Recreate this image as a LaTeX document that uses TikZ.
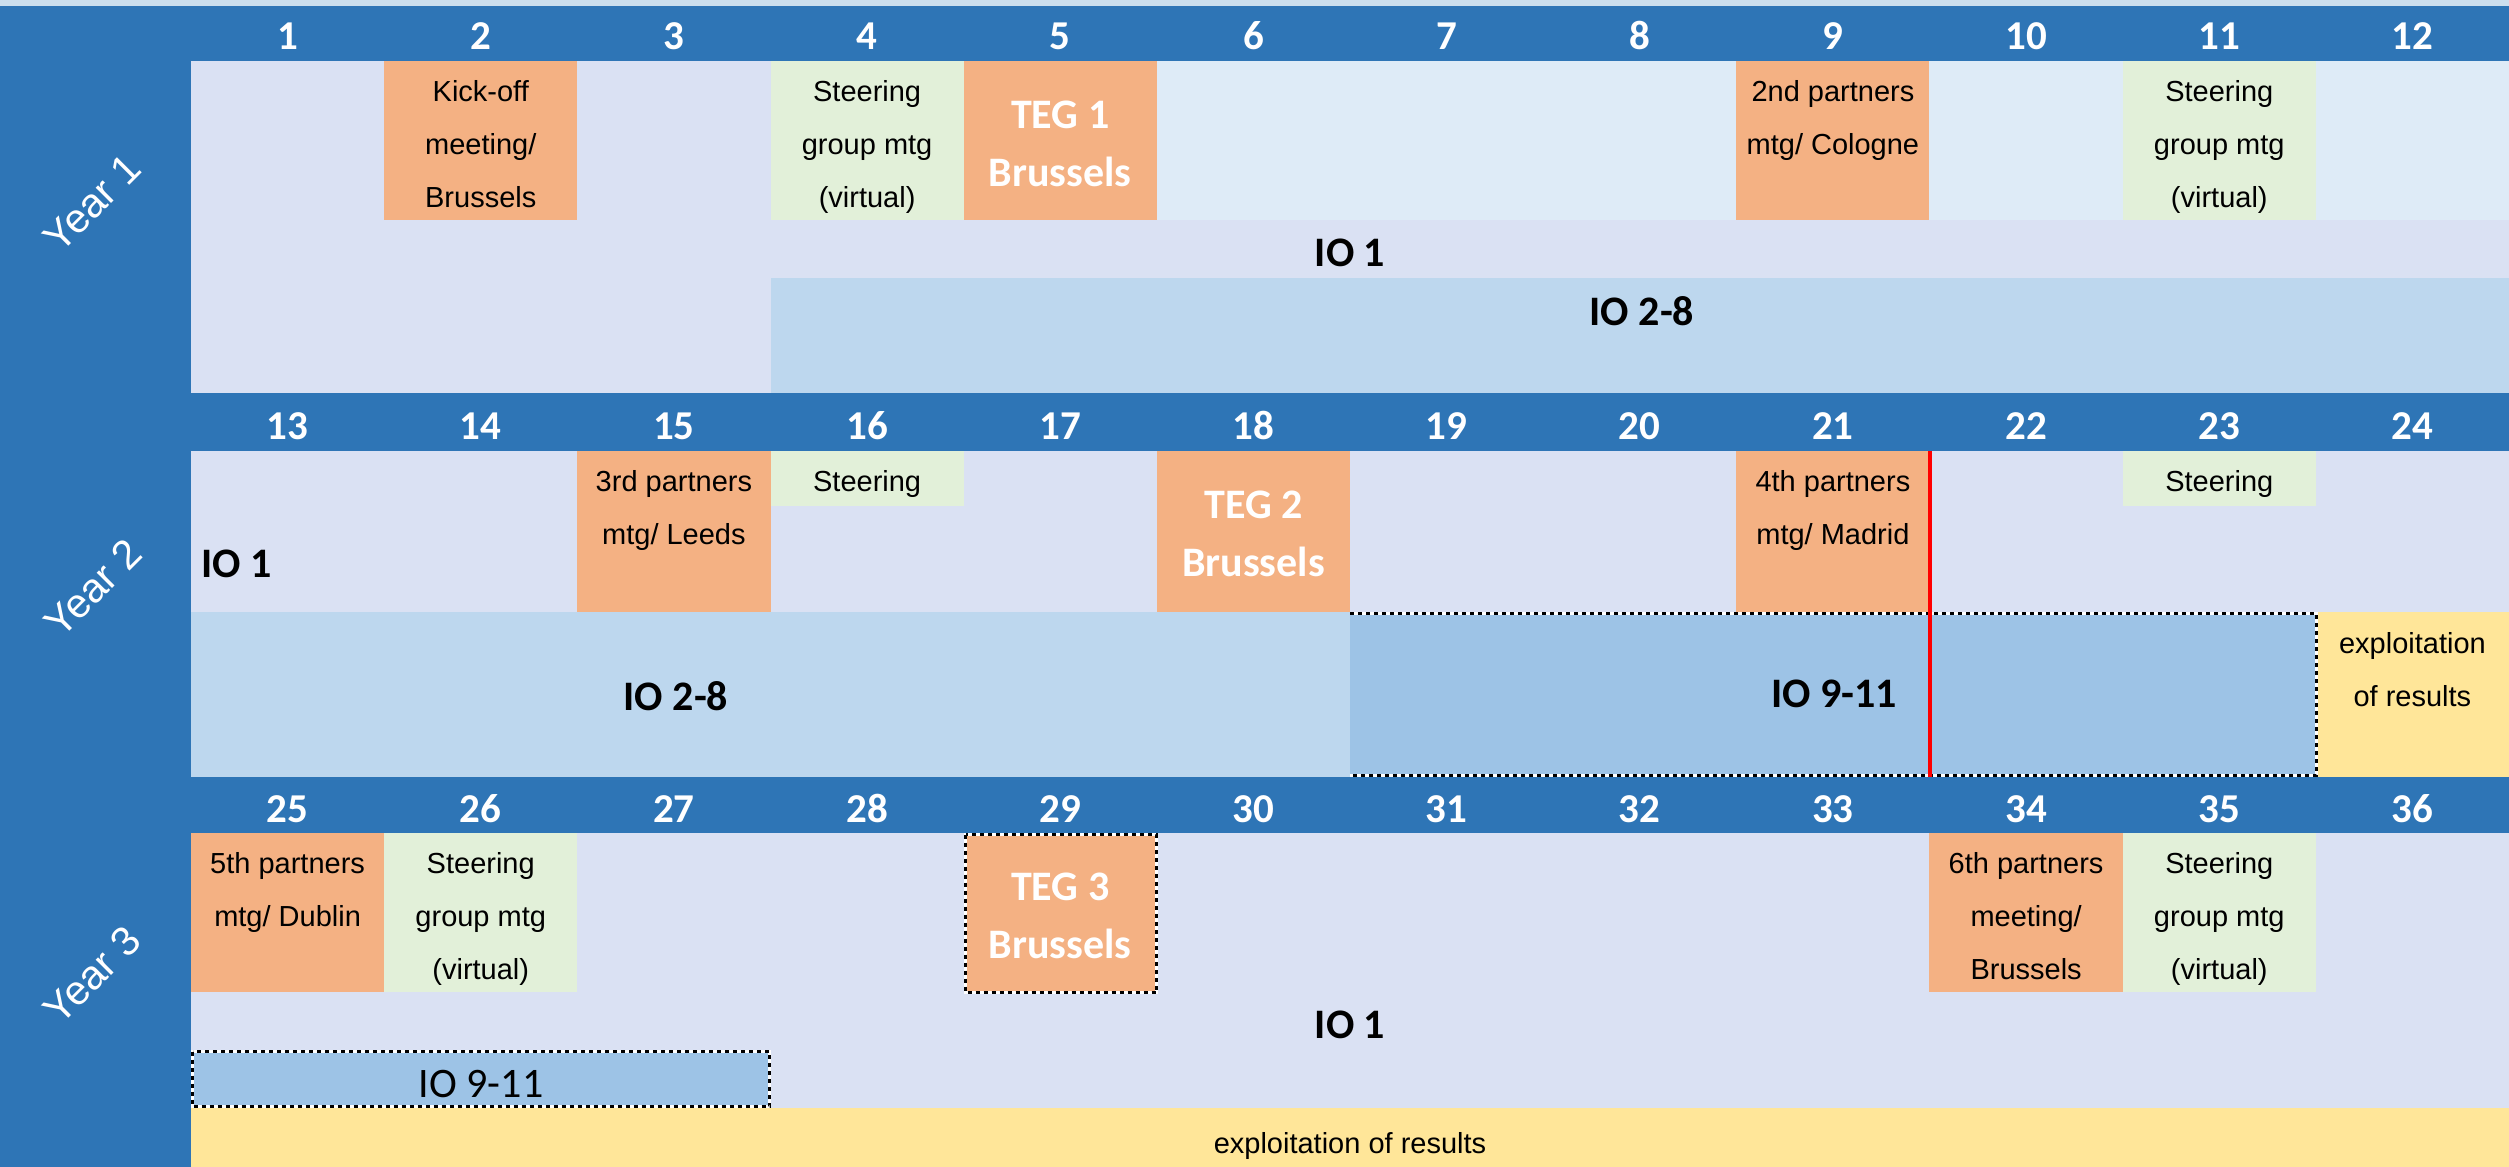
\documentclass[tikz,border=0pt]{standalone}
\usepackage{fontspec}
\setmainfont{Liberation Sans}
\newfontfamily\calibri{Carlito}
\definecolor{hdr}{HTML}{2E75B6}
\definecolor{lav}{HTML}{DAE1F3}
\definecolor{lblue}{HTML}{DEEBF7}
\definecolor{iob}{HTML}{BDD7EE}
\definecolor{iom}{HTML}{9DC3E6}
\definecolor{org}{HTML}{F4B183}
\definecolor{grn}{HTML}{E2F0D9}
\definecolor{ylw}{HTML}{FFE699}
\definecolor{strip}{HTML}{CCDFEE}
\tikzset{
  num/.style={anchor=base, inner sep=0pt, text=white, font=\calibri\bfseries\fontsize{41}{49}\selectfont},
  yearlbl/.style={rotate=45, inner sep=0pt, text=white, font=\fontsize{41}{49}\selectfont},
  mtg/.style={text width=190pt, align=flush center, inner sep=0pt, anchor=base, font=\fontsize{29}{53}\selectfont},
  teg/.style={text width=190pt, align=flush center, inner sep=0pt, anchor=base, text=white, font=\calibri\bfseries\fontsize{42}{58}\selectfont},
  iolbl/.style={anchor=base, inner sep=0pt, font=\calibri\bfseries\fontsize{42}{50}\selectfont},
  iolblreg/.style={anchor=base, inner sep=0pt, font=\calibri\fontsize{42}{50}\selectfont},
  wdash/.style={draw=white, line width=3pt},
  bdash/.style={draw=black, line width=3pt, dash pattern=on 4pt off 4pt},
}
\begin{document}
\begin{tikzpicture}[x=1pt,y=-1pt]
\useasboundingbox (0,0) rectangle (2509,1167);
% background
\fill[strip] (0,0) rectangle (2509,6);
\fill[hdr] (0,6) rectangle (2509,1167);
% ---------------- Year 1 ----------------
\fill[lav] (191,61) rectangle (771,220);
\fill[lblue] (771,61) rectangle (2509,220);
\fill[lav] (191,220) rectangle (2509,278);
\fill[lav] (191,278) rectangle (771,393);
\fill[iob] (771,278) rectangle (2509,393);
\fill[org] (384,61) rectangle (577,220);
\fill[grn] (771,61) rectangle (964,220);
\fill[org] (964,61) rectangle (1157,220);
\fill[org] (1736,61) rectangle (1929,220);
\fill[grn] (2123,61) rectangle (2316,220);
% ---------------- Year 2 ----------------
\fill[lav] (191,451) rectangle (2509,612);
\fill[org] (577,451) rectangle (771,612);
\fill[grn] (771,451) rectangle (964,506);
\fill[org] (1157,451) rectangle (1350,612);
\fill[org] (1736,451) rectangle (1929,612);
\fill[grn] (2123,451) rectangle (2316,506);
\fill[iob] (191,612) rectangle (1350,777);
\fill[iom] (1350,612) rectangle (2318,777);
\fill[ylw] (2318,612) rectangle (2509,777);
\draw[wdash] (1350,613.5) -- (2316.5,613.5) -- (2316.5,775.5) -- (1350,775.5);
\draw[bdash] (1350,613.5) -- (2316.5,613.5) -- (2316.5,775.5) -- (1350,775.5);
\coordinate (redtop) at (1929.5,451);
\coordinate (redbot) at (1929.5,777);
\draw[red, line width=4pt] (redtop) -- (redbot);
% ---------------- Year 3 ----------------
\fill[lav] (191,833) rectangle (2509,1108);
\fill[org] (191,833) rectangle (384,992);
\fill[grn] (384,833) rectangle (577,992);
\fill[org] (964,833) rectangle (1157,993);
\draw[wdash] (965.5,834.5) rectangle (1156.5,992.5);
\draw[bdash] (965.5,834.5) rectangle (1156.5,992.5);
\fill[org] (1929,833) rectangle (2123,992);
\fill[grn] (2123,833) rectangle (2316,992);
\fill[iom] (191,1050) rectangle (771,1108);
\draw[wdash] (192.5,1051.5) rectangle (769.5,1106.5);
\draw[bdash] (192.5,1051.5) rectangle (769.5,1106.5);
\fill[ylw] (191,1108) rectangle (2509,1167);
% ---------------- headers ----------------
\foreach \i in {1,...,12}{
  \pgfmathtruncatemacro\nb{\i+12}
  \pgfmathtruncatemacro\nc{\i+24}
  \node[num] (ha\i) at ({191+(\i-0.5)*193.1667},49) {\i};
  \node[num] (hb\i) at ({191+(\i-0.5)*193.1667},439) {\nb};
  \node[num] (hc\i) at ({191+(\i-0.5)*193.1667},822) {\nc};
}
% year labels
\node[yearlbl] (year1) at (92,203) {Year 1};
\node[yearlbl] (year2) at (93,588) {Year 2};
\node[yearlbl] (year3) at (92,975) {Year 3};
% ---------------- Year 1 texts ----------------
\node[mtg] (kick) at (480.75,101) {Kick-off\\meeting/\\Brussels};
\node[mtg] (steer1) at (867.1,101) {Steering\\group mtg\\(virtual)};
\node[teg] (teg1) at (1060.25,128) {TEG 1\\Brussels};
\node[mtg] (p2) at (1832.9,101) {2nd partners\\mtg/ Cologne};
\node[mtg] (steer2) at (2219.25,101) {Steering\\group mtg\\(virtual)};
\node[iolbl] (io1a) at (1350,266) {IO 1};
\node[iolbl] (io28a) at (1642,325) {IO 2-8};
% ---------------- Year 2 texts ----------------
\node[mtg] (p3) at (673.9,491) {3rd partners\\mtg/ Leeds};
\node[mtg] (steer3) at (867.1,491) {Steering};
\node[teg] (teg2) at (1253.4,518) {TEG 2\\Brussels};
\node[mtg] (p4) at (1832.9,491) {4th partners\\mtg/ Madrid};
\node[mtg] (steer4) at (2219.25,491) {Steering};
\node[iolbl, anchor=base west] (io1b) at (201,577) {IO 1};
\node[iolbl] (io28b) at (676,710) {IO 2-8};
\node[iolbl] (io911b) at (1834,707) {IO 9-11};
\node[mtg] (expl2) at (2412.4,653) {exploitation\\of results};
% ---------------- Year 3 texts ----------------
\node[mtg] (p5) at (287.6,873) {5th partners\\mtg/ Dublin};
\node[mtg] (steer5) at (480.75,873) {Steering\\group mtg\\(virtual)};
\node[teg] (teg3) at (1060.25,900) {TEG 3\\Brussels};
\node[mtg] (p6) at (2026.1,873) {6th partners\\meeting/\\Brussels};
\node[mtg] (steer6) at (2219.25,873) {Steering\\group mtg\\(virtual)};
\node[iolbl] (io1c) at (1350,1038) {IO 1};
\node[iolblreg] (io911c) at (481,1097) {IO 9-11};
\node[mtg, text width=600pt] (expl3) at (1350,1153) {exploitation of results};
\end{tikzpicture}
\end{document}
